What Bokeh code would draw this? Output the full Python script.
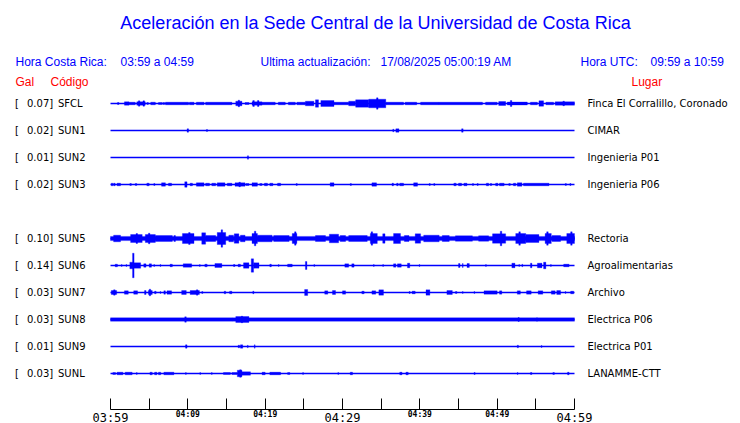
from bokeh.plotting import figure
from bokeh.models import Range1d, LinearAxis, FixedTicker
from bokeh.core.properties import value
from bokeh.embed import file_html
from bokeh.resources import INLINE

# ---------------- data ----------------
title = "Aceleración en la Sede Central de la Universidad de Costa Rica"
hora_cr = "03:59 a 04:59"
hora_utc = "09:59 a 10:59"
actualizacion = "17/08/2025 05:00:19 AM"

codes = ["SFCL", "SUN1", "SUN2", "SUN3", "SUN5", "SUN6", "SUN7", "SUN8", "SUN9", "SUNL"]
places = ["Finca El Corralillo, Coronado", "CIMAR", "Ingenieria P01", "Ingenieria P06",
          "Rectoria", "Agroalimentarias", "Archivo", "Electrica P06", "Electrica P01", "LANAMME-CTT"]
gal = ["0.07", "0.02", "0.01", "0.02", "0.10", "0.14", "0.03", "0.03", "0.01", "0.03"]
slots = [0, 1, 2, 3, 5, 6, 7, 8, 9, 10]   # row order (row 4 empty)

tick_minutes = [0, 5, 10, 15, 20, 25, 30, 35, 40, 45, 50, 55, 60]
major_labels = {0: "03:59", 30: "04:29", 60: "04:59"}
minor_labels = {10: "04:09", 20: "04:19", 40: "04:39", 50: "04:49"}

# bursts: (start minute, end minute, half amplitude; 27 units = one row)
bursts = {
"SFCL": [(0.9,1.1,1.0),(1.8,2.4,1.7),(2.4,3.2,1.3),(3.4,4.5,1.7),(3.6,3.8,2.7),(4.2,4.4,2.7),(4.7,4.9,1.0),
         (5.2,5.8,1.3),(6.2,6.7,1.0),(6.8,7.0,1.0),(7.1,10.1,1.3),(10.2,10.8,1.3),(11.1,12.1,1.3),(12.3,15.7,1.3),
         (16.2,17.0,2.3),(16.5,16.7,3.3),(17.4,17.9,1.0),(18.3,19.6,1.7),(18.4,18.6,3.0),(19.0,19.2,3.0),
         (19.6,21.3,1.3),(21.7,22.6,1.3),(23.0,23.9,1.3),(24.1,25.2,1.3),(25.2,26.3,2.3),(26.5,26.9,3.7),
         (27.2,28.9,3.0),(28.9,30.8,1.3),(30.8,31.7,2.3),(31.7,33.4,3.7),(33.4,35.6,4.3),(34.4,34.6,5.7),
         (35.6,37.9,1.3),(38.1,39.6,1.3),(40.1,42.5,1.3),(42.5,48.1,1.3),(48.5,50.0,1.3),(50.2,51.1,2.0),
         (51.3,53.9,1.5),(51.7,51.9,3.0),(54.3,55.2,1.3),(55.4,56.0,2.7),(56.3,57.3,1.3),(57.5,60.0,1.7),
         (58.5,58.7,2.3)],
"SUN1": [(9.9,10.1,1.7),(12.4,12.55,1.0),(36.5,36.65,1.3),(36.9,37.3,1.7),(45.4,45.6,1.7)],
"SUN2": [(17.7,17.85,1.7)],
"SUN3": [(0.1,0.3,1.3),(0.4,0.6,1.3),(0.85,1.3,1.3),(2.5,2.7,1.0),(3.2,3.4,1.0),(4.7,5.0,1.3),(5.6,5.75,1.0),
         (6.6,7.1,1.7),(7.5,7.9,1.3),(9.6,9.9,2.7),(10.3,10.6,1.3),(11.1,12.1,1.7),(12.3,12.8,1.3),(13.1,13.6,1.3),
         (13.8,14.8,1.7),(15.1,15.7,1.3),(16.1,17.4,1.7),(16.6,16.8,2.3),(17.5,17.9,1.0),(18.3,19.0,1.7),
         (19.3,19.6,1.0),(19.9,20.3,1.3),(20.6,21.0,1.3),(21.6,22.0,1.3),(24.0,24.15,1.0),(28.4,28.9,1.7),
         (31.0,31.15,1.0),(33.8,34.4,1.7),(36.4,36.6,1.3),(37.0,37.2,1.3),(37.4,37.9,1.3),(39.2,39.7,1.7),
         (41.2,41.35,1.0),(41.8,41.95,1.0),(44.4,44.7,1.3),(45.0,45.4,1.3),(45.7,46.1,1.3),(46.8,46.95,1.0),
         (47.4,47.55,1.0),(48.6,48.9,1.3),(49.1,49.3,1.0),(49.8,50.1,1.3),(50.3,50.9,1.3),(51.5,51.7,1.0),
         (52.1,52.4,1.3),(52.6,53.2,1.7),(53.4,56.7,1.3),(58.8,58.95,1.0),(59.4,59.55,1.0)],
"SUN5": [(0.0,60.0,2.1),(0.4,1.3,3.3),(2.6,4.1,4.0),(3.3,3.5,5.0),(4.5,5.8,4.0),(4.9,5.1,5.3),(5.8,8.0,3.0),
         (8.2,8.4,3.0),(9.3,10.8,5.0),(10.1,10.3,6.0),(11.8,12.3,5.7),(12.3,13.6,3.0),(13.8,14.9,6.0),
         (14.3,14.5,8.7),(15.3,15.9,3.3),(16.0,16.6,4.7),(16.8,17.4,3.3),(18.3,19.0,5.0),(18.6,18.8,7.3),
         (19.0,20.9,3.3),(21.1,23.1,3.0),(23.5,24.1,5.0),(23.8,24.0,6.7),(26.5,27.8,3.0),(28.3,29.5,4.3),
         (29.7,30.4,3.0),(30.8,33.2,3.0),(33.6,34.5,5.0),(33.7,33.9,6.7),(35.2,35.5,4.7),(36.6,37.5,5.0),
         (38.0,38.6,3.0),(39.4,40.1,4.7),(40.5,42.5,3.3),(42.9,43.8,3.0),(44.6,46.8,2.7),(47.6,48.9,2.7),
         (49.4,51.1,4.7),(50.4,50.6,7.3),(52.4,53.7,5.0),(52.8,53.0,6.7),(53.7,55.4,4.0),(56.2,57.0,5.0),
         (56.4,56.6,6.7),(57.1,58.2,3.0),(59.0,60.0,5.0),(59.5,59.7,6.7)],
"SUN6": [(0.6,0.9,1.3),(1.4,1.5,1.0),(2.0,2.1,1.0),(2.5,2.9,3.3),(2.85,3.05,12.3),(3.0,3.9,2.7),(4.3,4.6,1.7),
         (5.0,5.3,1.7),(5.6,5.7,1.0),(6.4,6.5,1.0),(7.7,8.0,1.3),(9.4,10.5,1.7),(11.5,11.6,1.0),(12.2,12.5,1.3),
         (13.5,14.4,2.0),(15.9,16.1,1.0),(16.5,16.8,1.3),(17.2,17.9,2.7),(18.2,18.5,6.7),(18.5,19.2,2.7),
         (20.6,20.8,1.3),(21.7,21.8,1.0),(22.9,23.5,1.3),(25.2,25.4,4.0),(26.3,26.4,1.0),(30.3,30.8,1.7),
         (31.2,31.5,1.7),(34.0,34.1,1.0),(35.2,35.3,1.0),(36.6,36.9,1.7),(37.1,37.6,1.7),(38.4,38.7,2.3),
         (39.9,40.0,1.0),(45.0,45.2,2.0),(45.5,45.6,2.0),(46.1,46.4,2.0),(48.5,48.6,1.0),(51.9,52.3,2.3),
         (52.8,52.9,1.0),(53.2,53.3,1.3),(54.3,54.5,2.3),(55.2,55.8,2.3),(56.0,56.3,3.3),(56.9,57.0,1.0),
         (58.6,59.3,1.3)],
"SUN7": [(0.1,0.8,2.0),(0.4,0.6,2.7),(1.8,2.3,1.7),(3.0,3.5,1.7),(4.4,4.6,2.0),(4.9,5.4,2.0),(5.0,5.2,3.3),
         (5.7,5.9,1.3),(6.4,6.5,1.0),(6.9,7.1,1.7),(7.3,7.9,1.7),(9.2,9.8,2.0),(10.3,11.5,2.0),(11.1,11.3,2.7),
         (11.8,11.95,1.0),(14.7,14.9,1.3),(15.4,15.7,1.3),(18.4,18.55,1.3),(25.1,25.5,3.0),(27.7,28.1,1.7),
         (28.7,29.1,2.0),(30.0,30.4,1.7),(32.5,32.8,1.3),(33.8,34.3,1.7),(34.7,35.3,2.7),(38.6,38.75,1.0),
         (39.0,39.4,1.3),(40.8,41.3,2.7),(43.5,44.2,2.0),(44.6,44.8,1.0),(45.5,45.6,1.0),(47.0,47.1,1.0),
         (48.3,50.0,1.7),(50.3,50.6,1.7),(52.6,53.0,1.7),(53.8,54.4,1.7),(55.3,55.9,1.7),(57.0,57.5,1.7),
         (57.7,58.2,2.0),(58.8,58.9,1.0),(59.5,59.9,1.3)],
"SUN8": [(0.0,60.0,1.7),(9.6,9.8,2.7),(15.7,15.8,1.3),(16.2,17.9,3.0),(16.9,17.1,3.3),(52.7,52.85,2.0),
         (55.1,55.2,1.7)],
"SUN9": [(9.7,9.9,1.7),(16.5,16.7,1.3),(16.8,17.1,1.7),(17.7,17.8,1.3),(18.6,18.7,1.7),(52.6,52.75,1.3),
         (55.7,55.8,1.0)],
"SUNL": [(0.3,0.65,1.0),(0.85,1.6,1.3),(1.9,2.8,1.3),(3.35,3.45,1.0),(5.1,5.4,1.3),(5.7,6.0,1.3),(6.2,6.5,1.3),
         (6.9,8.2,1.3),(9.7,9.8,1.0),(11.55,11.65,1.0),(13.05,13.15,1.0),(14.6,15.5,1.0),(15.7,16.4,1.0),
         (16.4,17.0,3.3),(16.7,16.9,3.7),(17.0,18.1,1.7),(19.6,20.0,1.3),(20.6,22.0,1.3),(22.9,23.2,1.0),
         (24.85,24.95,1.0),(29.4,29.5,1.0),(31.0,31.3,1.3),(37.4,37.7,1.3),(38.2,38.5,1.3),(47.0,47.15,1.0),
         (52.6,52.7,1.0),(54.3,54.5,1.0),(57.2,57.4,1.0),(59.1,59.3,1.3)],
}

# ---------------- layout ----------------
W, H = 740, 423
PXM = 464 / 60.0          # pixels per minute
ROW = 27.0                # pixels per row
X0 = 110                  # canvas x of minute 0
Y0 = 103                  # canvas y of row 0

def xs(px):   # canvas x -> minutes
    return (px - X0) / PXM

def ys(py):   # canvas y -> row units
    return (py - Y0) / ROW

BLUE = "#0000ff"
RED = "#ff0000"

p = figure(width=W, height=H, output_backend="svg", toolbar_location=None,
           x_range=Range1d(-X0 / PXM, (W - X0) / PXM),
           y_range=Range1d((H - Y0) / ROW, -Y0 / ROW),
           x_axis_location=None, y_axis_location=None,
           min_border=0, min_border_left=0, min_border_right=0,
           min_border_top=0, min_border_bottom=0)
p.outline_line_color = None
p.grid.visible = False
p.background_fill_color = "white"
p.border_fill_color = "white"

# traces
qx0, qx1, qt, qb = [], [], [], []
for code, s in zip(codes, slots):
    for (a, b, amp) in bursts[code]:
        qx0.append(a); qx1.append(b)
        qt.append(s - amp / ROW); qb.append(s + amp / ROW)
p.quad(left=qx0, right=qx1, top=qt, bottom=qb, fill_color=BLUE, line_color=BLUE, line_width=0.3)
p.segment(x0=[0] * len(slots), x1=[60] * len(slots), y0=slots, y1=slots, line_color=BLUE, line_width=1.3)

# time axis
ax = LinearAxis(fixed_location=ys(409), ticker=FixedTicker(ticks=tick_minutes), bounds=(0, 60),
                major_tick_in=11, major_tick_out=0, minor_tick_in=0, minor_tick_out=0,
                axis_line_color="black", axis_line_width=1, major_tick_line_color="black",
                major_label_overrides={float(t): major_labels.get(t, "") for t in tick_minutes},
                major_label_text_font="DejaVu Sans Mono", major_label_text_font_size="12px",
                major_label_text_color="black", major_label_standoff=1)
p.add_layout(ax, "below")
ax2 = LinearAxis(fixed_location=ys(409), ticker=FixedTicker(ticks=list(minor_labels.keys())), bounds=(0, 60),
                 major_tick_in=0, major_tick_out=0, minor_tick_in=0, minor_tick_out=0,
                 axis_line_color=None, major_tick_line_color=None,
                 major_label_overrides={float(t): l for t, l in minor_labels.items()},
                 major_label_text_font="DejaVu Sans Mono", major_label_text_font_size="8px",
                 major_label_text_font_style="bold",
                 major_label_text_color="black", major_label_standoff=0)
p.add_layout(ax2, "below")

# texts
def txt(xpx, ypx, t, color, size, font="Liberation Sans", align="left"):
    p.text(x=[xs(xpx)], y=[ys(ypx)], text=[t], text_color=color, text_font=value(font),
           text_font_size=size, text_baseline="middle", text_align=align)

txt(375, 22, title, BLUE, "18px", align="center")
txt(15, 61, "Hora Costa Rica:", BLUE, "12px")
txt(120, 61, hora_cr, BLUE, "12px")
txt(260, 61, "Ultima actualización:", BLUE, "12px")
txt(380, 61, actualizacion, BLUE, "12px")
txt(580, 61, "Hora UTC:", BLUE, "12px")
txt(650, 61, hora_utc, BLUE, "12px")
txt(15, 81, "Gal", RED, "12px")
txt(50, 81, "Código", RED, "12px")
txt(631, 81, "Lugar", RED, "12px")

p.text(x=[xs(14.5)] * len(slots), y=slots, text=["["] * len(slots), text_color="black",
       text_font=value("DejaVu Sans"), text_font_size="10px", text_baseline="middle")
p.text(x=[xs(26.5)] * len(slots), y=slots, text=[g + "]" for g in gal], text_color="black",
       text_font=value("DejaVu Sans"), text_font_size="10px", text_baseline="middle")
p.text(x=[xs(57.5)] * len(slots), y=slots, text=codes, text_color="black",
       text_font=value("DejaVu Sans"), text_font_size="10px", text_baseline="middle")
p.text(x=[xs(587)] * len(slots), y=slots, text=places, text_color="black",
       text_font=value("DejaVu Sans"), text_font_size="10px", text_baseline="middle")

open("out.html", "w").write(file_html(p, INLINE))
